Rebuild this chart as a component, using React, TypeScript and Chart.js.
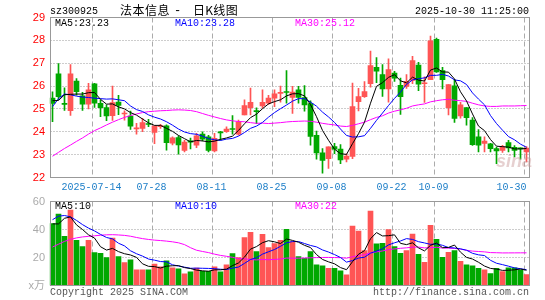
import React, { useEffect, useRef } from 'react';
import { Chart, registerables } from 'chart.js';

Chart.register(...registerables);

// ---------- data ----------
const dates = [
  '2025-07-03','2025-07-04','2025-07-07','2025-07-08','2025-07-09','2025-07-10','2025-07-11','2025-07-14','2025-07-15','2025-07-16',
  '2025-07-17','2025-07-18','2025-07-21','2025-07-22','2025-07-23','2025-07-24','2025-07-25','2025-07-28','2025-07-29','2025-07-30',
  '2025-07-31','2025-08-01','2025-08-04','2025-08-05','2025-08-06','2025-08-07','2025-08-08','2025-08-11','2025-08-12','2025-08-13',
  '2025-08-14','2025-08-15','2025-08-18','2025-08-19','2025-08-20','2025-08-21','2025-08-22','2025-08-25','2025-08-26','2025-08-27',
  '2025-08-28','2025-08-29','2025-09-01','2025-09-02','2025-09-03','2025-09-04','2025-09-05','2025-09-08','2025-09-09','2025-09-10',
  '2025-09-11','2025-09-12','2025-09-15','2025-09-16','2025-09-17','2025-09-18','2025-09-19','2025-09-22','2025-09-23','2025-09-24',
  '2025-09-25','2025-09-26','2025-09-29','2025-09-30','2025-10-09','2025-10-10','2025-10-13','2025-10-14','2025-10-15','2025-10-16',
  '2025-10-17','2025-10-20','2025-10-21','2025-10-22','2025-10-23','2025-10-24','2025-10-27','2025-10-28','2025-10-29','2025-10-30',
];

const axisTickDates = ['2025-07-14','2025-07-28','2025-08-11','2025-08-25','2025-09-08','2025-09-22','2025-10-09','2025-10-30'];
const axisTickLabels = ['2025-07-14','07-28','08-11','08-25','09-08','09-22','10-09','10-30'];

const opens = [
  25.47,26.54,25.24,24.92,26.22,25.57,25.21,26.1,25.25,25.06,
  24.7,25.3,24.78,24.69,24.12,24.15,24.36,23.97,24.22,24.26,
  23.5,23.75,23.19,23.6,23.41,23.9,23.78,23.16,24.0,24.0,
  24.14,23.9,24.74,25.06,24.93,25.13,25.25,25.47,25.68,25.75,
  25.5,25.84,25.5,25.23,23.85,23.08,22.82,23.35,23.24,22.8,
  22.92,25.32,25.54,26.1,26.82,26.5,25.88,26.57,26.03,25.99,
  26.25,26.92,26.1,26.28,28.04,26.68,25.06,26.01,24.69,25.06,
  24.51,23.78,23.49,23.47,23.26,23.19,23.53,23.32,23.27,23.12,
];
const highs = [
  25.75,26.98,25.92,26.94,26.33,25.73,26.12,26.12,25.4,25.18,
  26.0,25.6,24.92,24.91,24.37,24.59,24.54,24.27,24.33,24.3,
  23.78,23.82,23.63,23.72,23.93,24.0,23.85,23.93,24.02,24.22,
  24.71,24.51,25.4,25.91,25.05,25.84,25.6,25.84,26.0,26.68,
  25.99,25.99,26.02,25.35,24.03,23.26,23.34,23.49,23.44,23.04,
  26.13,25.9,26.2,27.53,27.25,26.94,27.19,26.65,26.35,26.5,
  27.3,27.04,26.4,28.19,28.1,26.82,26.06,26.28,25.29,25.06,
  24.62,24.1,23.78,23.5,23.33,23.41,23.63,23.4,23.3,23.35,
];
const lows = [
  24.44,25.4,24.93,24.72,25.6,24.93,25.0,25.07,24.66,24.49,
  24.5,24.75,24.51,24.1,23.9,24.0,24.22,23.48,24.15,23.2,
  23.42,23.02,23.12,23.25,23.31,23.6,23.12,23.12,23.63,23.97,
  23.9,23.85,24.74,24.74,24.35,25.03,25.2,25.1,25.3,25.25,
  24.8,25.25,24.9,23.41,22.8,22.19,22.4,23.04,22.6,22.68,
  22.82,24.91,25.5,25.95,26.15,25.55,25.3,26.2,24.76,25.9,
  26.1,25.8,25.28,26.28,26.6,25.88,24.74,24.41,24.6,24.29,
  23.4,23.12,23.12,23.12,22.6,23.1,23.12,22.9,22.8,22.68,
];
const closes = [
  25.24,25.54,25.2,26.54,25.75,25.21,25.84,25.25,25.06,24.69,
  25.28,25.15,24.82,24.25,24.17,24.4,24.32,24.25,24.27,23.52,
  23.74,23.42,23.55,23.55,23.82,23.68,23.19,23.71,23.95,24.12,
  24.1,24.44,25.15,25.29,24.88,25.29,25.47,25.66,25.72,25.72,
  25.74,25.5,25.18,23.8,23.08,22.75,23.34,23.24,22.77,22.94,
  25.1,25.54,25.76,26.9,26.65,25.88,26.72,26.35,25.54,26.21,
  27.12,26.08,26.13,27.98,26.62,26.28,26.06,24.59,25.18,24.62,
  23.44,23.41,23.59,23.26,23.16,23.34,23.29,23.19,23.25,23.29,
];
const ma5 = [
  25.36,25.37,25.62,25.64,25.65,25.65,25.71,25.72,25.42,25.21,
  25.22,25.09,25.0,24.84,24.73,24.56,24.39,24.28,24.28,24.15,
  24.02,23.84,23.7,23.56,23.62,23.6,23.56,23.59,23.67,23.73,
  23.81,24.06,24.35,24.62,24.77,25.01,25.22,25.32,25.4,25.57,
  25.66,25.67,25.57,25.19,24.66,24.06,23.63,23.24,23.04,23.01,
  23.48,23.92,24.42,25.25,25.99,26.15,26.38,26.5,26.23,26.14,
  26.39,26.26,26.22,26.7,26.79,26.62,26.61,26.31,25.75,25.35,
  24.78,24.25,24.05,23.66,23.37,23.35,23.33,23.25,23.25,23.27,
];
const ma10 = [
  25.1,25.45,25.65,25.62,25.56,25.52,25.5,25.47,25.45,25.43,
  25.44,25.4,25.36,25.13,24.97,24.89,24.74,24.64,24.56,24.44,
  24.29,24.12,23.99,23.92,23.89,23.81,23.7,23.65,23.62,23.68,
  23.71,23.81,23.97,24.15,24.25,24.41,24.64,24.84,25.01,25.17,
  25.34,25.45,25.45,25.3,25.12,24.86,24.65,24.41,24.12,23.84,
  23.77,23.78,23.83,24.15,24.5,24.82,25.15,25.46,25.74,26.07,
  26.27,26.32,26.36,26.47,26.47,26.51,26.44,26.27,26.23,26.07,
  25.7,25.43,25.18,24.71,24.36,24.07,23.79,23.65,23.46,23.32,
];
const ma30 = [
  22.93,23.1,23.27,23.42,23.58,23.73,23.9,24.05,24.17,24.3,
  24.42,24.53,24.63,24.71,24.78,24.84,24.88,24.9,24.92,24.93,
  24.95,24.96,24.95,24.93,24.88,24.8,24.72,24.65,24.58,24.52,
  24.48,24.45,24.44,24.4,24.37,24.38,24.36,24.38,24.4,24.43,
  24.45,24.46,24.47,24.46,24.42,24.37,24.33,24.3,24.25,24.23,
  24.28,24.35,24.42,24.53,24.63,24.7,24.82,24.9,24.96,25.03,
  25.13,25.18,25.22,25.31,25.36,25.4,25.42,25.38,25.36,25.33,
  25.25,25.18,25.13,25.11,25.11,25.13,25.13,25.13,25.14,25.15,
];
const volumes = [
  44.2,51.0,35.1,53.9,32.2,27.8,32.2,23.5,23.0,19.9,
  33.9,20.6,16.3,18.4,11.2,11.2,11.2,15.3,13.4,17.7,
  12.7,11.9,8.3,9.8,12.4,10.2,10.2,13.4,9.8,14.8,
  22.8,19.9,34.3,38.0,24.2,36.5,27.1,30.0,32.2,40.1,
  31.4,20.6,19.4,24.2,14.8,14.1,12.2,12.2,10.5,7.6,
  42.5,38.9,24.9,53.1,29.8,30.2,39.9,27.8,23.0,24.9,
  36.7,22.3,16.5,43.0,32.9,20.1,23.7,24.9,17.2,14.8,
  14.1,12.2,11.2,8.6,12.2,10.0,12.7,12.7,11.2,7.8,
];
const volMa5 = [
  44.0,44.0,48.0,49.0,43.3,40.0,36.2,33.9,27.7,25.3,
  26.5,24.2,22.7,21.8,20.1,15.5,13.7,13.5,12.5,13.8,
  14.1,14.2,12.8,12.1,11.0,10.5,10.2,11.2,11.2,11.7,
  14.2,16.1,20.3,26.0,27.8,30.6,32.0,31.2,30.0,33.2,
  32.2,30.9,28.7,27.1,22.1,18.6,16.9,15.5,12.8,11.3,
  17.0,22.3,24.9,33.4,37.8,35.4,35.6,36.2,30.1,29.2,
  30.5,26.9,24.7,28.7,30.3,27.0,27.2,28.9,23.8,20.1,
  18.9,16.6,13.9,12.2,11.7,10.8,10.9,11.2,11.8,10.9,
];
const volMa10 = [
  47.0,49.5,50.0,49.0,46.5,43.5,41.0,39.0,36.5,34.3,
  33.3,30.2,28.3,24.8,22.7,21.0,18.9,18.1,17.1,16.9,
  14.8,13.9,13.1,12.3,12.4,12.3,12.2,12.0,11.6,11.4,
  12.4,13.2,15.8,18.6,19.8,22.4,24.1,25.7,28.0,30.5,
  31.4,31.4,30.0,28.6,27.6,25.4,23.9,22.1,20.0,16.7,
  17.8,19.6,20.2,23.1,24.6,26.2,29.0,30.5,31.8,33.5,
  32.9,31.3,30.4,29.4,29.7,28.7,27.1,26.8,26.2,25.2,
  23.0,21.9,21.4,18.0,15.9,14.9,13.8,12.6,12.0,11.3,
];
const volMa30 = [
  27.5,29.5,31.5,33.0,34.0,34.7,35.1,35.5,35.9,36.2,
  36.3,36.1,35.8,35.2,34.3,33.5,32.9,32.4,32.1,31.7,
  31.2,30.5,29.2,27.0,25.2,24.3,23.5,22.4,21.5,20.85,
  20.14,19.1,19.08,18.55,18.28,18.57,18.4,18.62,18.92,19.6,
  19.51,19.51,19.62,19.81,19.93,20.03,20.06,19.96,19.86,19.53,
  20.52,21.42,21.97,23.42,24.0,24.66,25.65,26.13,26.57,26.91,
  27.38,27.46,26.86,27.03,27.32,26.77,26.66,26.49,25.99,25.15,
  24.57,24.29,24.02,23.5,23.41,23.27,23.29,23.31,23.33,23.34,
];

const priceTicks = [22, 29];
const volumeTicks = [0, 60];

// ---------- style ----------
const RED = '#ff5555';
const GREEN = '#00a800';
const MONO = "'Liberation Mono', 'DejaVu Sans Mono', monospace";
const SANS = "'Liberation Sans', 'Noto Sans CJK SC', sans-serif";
const CJK = "'Noto Sans CJK SC', sans-serif";

const framePlugin = {
  id: 'sinaFrame',
  beforeDatasetsDraw(chart: any) {
    const { ctx, chartArea: a, scales } = chart;
    const xs = scales.x;
    const ys = scales.y;
    const L = Math.round(a.left) + 0.5;
    const R = Math.floor(a.right) + 0.5;
    const T = Math.floor(a.top) + 0.5;
    const B = Math.floor(a.bottom) + 0.5;
    ctx.save();
    ctx.lineWidth = 1;
    ctx.strokeStyle = '#9a9a9a';
    ctx.setLineDash([1, 2]);
    ys.ticks.forEach((t: any) => {
      if (t.value <= ys.min || t.value >= ys.max) return;
      const y = Math.floor(ys.getPixelForValue(t.value)) + 0.5;
      ctx.beginPath();
      ctx.moveTo(L, y);
      ctx.lineTo(R, y);
      ctx.stroke();
    });
    ctx.setLineDash([5, 3]);
    ctx.strokeStyle = '#ababab';
    const half = (xs.getPixelForValue(1) - xs.getPixelForValue(0)) / 2;
    axisTickDates.forEach((d) => {
      const i = dates.indexOf(d);
      const x = Math.round(xs.getPixelForValue(i) - half) + 0.5;
      ctx.beginPath();
      ctx.moveTo(x, T);
      ctx.lineTo(x, B);
      ctx.stroke();
    });
    ctx.restore();
  },
  afterDatasetsDraw(chart: any) {
    const { ctx, chartArea: a } = chart;
    const L = Math.round(a.left) + 0.5;
    const R = Math.floor(a.right) + 0.5;
    const T = Math.floor(a.top) + 0.5;
    const B = Math.floor(a.bottom) + 0.5;
    ctx.save();
    ctx.lineWidth = 1;
    ctx.setLineDash([]);
    ctx.strokeStyle = '#999999';
    ctx.strokeRect(L, T, R - L, B - T);
    ctx.restore();
  },
};

const lineDs = (label: string, data: number[], color: string) => ({
  type: 'line' as const,
  label,
  data,
  borderColor: color,
  backgroundColor: color,
  borderWidth: 1,
  pointRadius: 0,
  tension: 0,
  order: 0,
});

function Txt(props: { x: number; top: number; text: string; color: string; right?: boolean; size?: number; family?: string; ls?: number; extra?: any }) {
  const { x, top, text, color, right, size = 10, family = MONO, ls = 0, extra = {} } = props;
  const style: any = {
    position: 'absolute',
    top,
    color,
    fontSize: size,
    lineHeight: `${size}px`,
    fontFamily: family,
    whiteSpace: 'pre',
    letterSpacing: ls,
    ...extra,
  };
  if (right) style.right = 545 - x;
  else style.left = x;
  return <div style={style}>{text}</div>;
}

export default function App() {
  const priceRef = useRef<HTMLCanvasElement>(null);
  const volRef = useRef<HTMLCanvasElement>(null);

  useEffect(() => {
    const colors = closes.map((c, i) => (c >= opens[i] ? RED : GREEN));
    const lastIdx = dates.length - 1;

    const priceChart = new Chart(priceRef.current as HTMLCanvasElement, {
      type: 'bar',
      data: {
        labels: dates,
        datasets: [
          lineDs('MA5', ma5, '#000000'),
          lineDs('MA10', ma10, '#0000ff'),
          lineDs('MA30', ma30, '#ff00ff'),
          {
            type: 'bar',
            label: 'body',
            data: opens.map((o, i) => [o, closes[i]]),
            backgroundColor: colors,
            borderWidth: 0,
            barThickness: 5,
            grouped: false,
            minBarLength: 1,
            order: 2,
          } as any,
          {
            type: 'bar',
            label: 'wick',
            data: lows.map((l, i) => [l, highs[i]]),
            backgroundColor: colors,
            borderWidth: 0,
            barThickness: 1,
            grouped: false,
            order: 3,
          } as any,
        ],
      },
      options: {
        responsive: false,
        animation: false,
        devicePixelRatio: 1,
        layout: { padding: { top: 17.5, right: 15.5, left: 0, bottom: 0 } },
        plugins: { legend: { display: false }, tooltip: { enabled: false } },
        scales: {
          x: {
            offset: true,
            grid: { display: false, drawTicks: false, tickLength: 0 },
            border: { display: false },
            ticks: {
              autoSkip: false,
              maxRotation: 0,
              minRotation: 0,
              align: 'inner',
              padding: 4,
              color: '#1e7fc8',
              font: { family: MONO, size: 10 },
              callback: (_v: any, i: number) => {
                const j = axisTickDates.indexOf(dates[i]);
                if (j < 0) return '';
                return i === lastIdx ? axisTickLabels[j] : axisTickLabels[j] + ' ';
              },
            },
            afterFit: (s: any) => {
              s.height = 195 - 177.5;
              s.paddingLeft = 0;
              s.paddingRight = 0;
            },
          } as any,
          y: {
            min: priceTicks[0],
            max: priceTicks[1],
            grid: { display: false, drawTicks: false, tickLength: 0 },
            border: { display: false },
            ticks: {
              stepSize: 1,
              padding: 4.5,
              color: '#ff0000',
              font: { family: SANS, size: 11 },
            },
            afterFit: (s: any) => {
              s.width = 49.5;
              s.paddingTop = 0;
              s.paddingBottom = 0;
            },
          } as any,
        },
      },
      plugins: [framePlugin],
    });

    const volChart = new Chart(volRef.current as HTMLCanvasElement, {
      type: 'bar',
      data: {
        labels: dates,
        datasets: [
          lineDs('MA5', volMa5, '#000000'),
          lineDs('MA10', volMa10, '#0000ff'),
          lineDs('MA30', volMa30, '#ff00ff'),
          {
            type: 'bar',
            label: 'volume',
            data: volumes,
            backgroundColor: colors,
            borderWidth: 0,
            barThickness: 5,
            grouped: false,
            order: 2,
          } as any,
        ],
      },
      options: {
        responsive: false,
        animation: false,
        devicePixelRatio: 1,
        layout: { padding: { top: 6.5, right: 15.5, left: 0, bottom: 14.5 } },
        plugins: { legend: { display: false }, tooltip: { enabled: false } },
        scales: {
          x: { display: false, offset: true, grid: { display: false } } as any,
          y: {
            min: volumeTicks[0],
            max: volumeTicks[1],
            grid: { display: false, drawTicks: false, tickLength: 0 },
            border: { display: false },
            ticks: {
              stepSize: 20,
              padding: 4.5,
              color: '#aaaaaa',
              font: { family: SANS, size: 11 },
              callback: (v: any) => (v === 0 ? 'x万' : String(v)),
            },
            afterFit: (s: any) => {
              s.width = 49.5;
              s.paddingTop = 0;
              s.paddingBottom = 0;
            },
          } as any,
        },
      },
      plugins: [framePlugin],
    });

    return () => {
      priceChart.destroy();
      volChart.destroy();
    };
  }, []);

  return (
    <div style={{ position: 'fixed', left: 0, top: 0, width: 545, height: 300, background: '#ffffff', overflow: 'hidden' }}>
      <canvas ref={priceRef} width={545} height={195} style={{ position: 'absolute', left: 0, top: 0, width: 545, height: 195 }} />
      <canvas ref={volRef} width={545} height={105} style={{ position: 'absolute', left: 0, top: 195, width: 545, height: 105 }} />

      <Txt x={50} top={7.3} text="sz300925" color="#000" />
      <Txt x={120} top={4} text="法本信息" color="#000" size={12} family={CJK} ls={0.5} />
      <Txt x={174} top={4.5} text="-" color="#000" size={12} />
      <Txt x={193} top={4} text="日K线图" color="#000" size={12} family={CJK} ls={0.3} />
      <Txt x={529} right top={7.3} text="2025-10-30 11:25:00" color="#000" />

      <Txt x={55} top={19} text="MA5:23.23" color="#000" />
      <Txt x={175} top={19} text="MA10:23.28" color="#0000ff" />
      <Txt x={295} top={19} text="MA30:25.12" color="#ff00ff" />

      <Txt x={55} top={201.8} text="MA5:10" color="#000" />
      <Txt x={175} top={201.8} text="MA10:10" color="#0000ff" />
      <Txt x={295} top={201.8} text="MA30:22" color="#ff00ff" />

      <Txt x={50} top={287.5} text="Copyright 2025 SINA.COM" color="#555" />
      <Txt x={529} right top={287.5} text="http://finance.sina.com.cn" color="#555" />

      <Txt x={496} top={152} text="sina" color="rgba(200,150,150,0.45)" size={18} family={SANS} extra={{ fontStyle: 'italic', fontWeight: 'bold' }} />
    </div>
  );
}
